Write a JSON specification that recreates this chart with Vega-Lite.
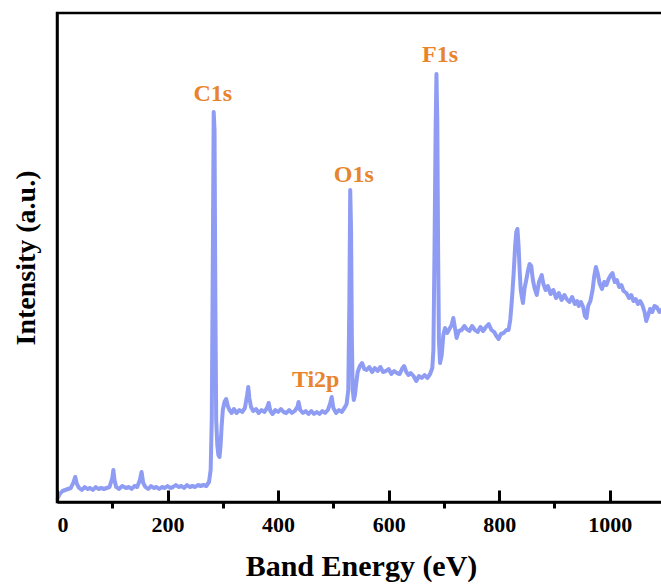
{
  "$schema": "https://vega.github.io/schema/vega-lite/v6.json",
  "width": 608,
  "height": 489,
  "autosize": {"type": "none"},
  "padding": {"left": 57, "top": 13, "right": 0, "bottom": 85},
  "background": "white",
  "config": {
    "view": {"stroke": "black", "strokeWidth": 2.5},
    "axis": {
      "grid": false,
      "labelFont": "Liberation Serif",
      "titleFont": "Liberation Serif",
      "labelFontWeight": "bold",
      "titleFontWeight": "bold",
      "labelColor": "black",
      "titleColor": "black",
      "domainColor": "black"
    }
  },
  "datasets": {
    "spectrum": [
      {"energy": 0, "intensity": 2}, {"energy": 5, "intensity": 8}, {"energy": 10, "intensity": 11}, {"energy": 15, "intensity": 12},
      {"energy": 20, "intensity": 13}, {"energy": 25, "intensity": 14}, {"energy": 30, "intensity": 20}, {"energy": 33, "intensity": 25},
      {"energy": 36, "intensity": 18}, {"energy": 40, "intensity": 14}, {"energy": 45, "intensity": 12}, {"energy": 50, "intensity": 15},
      {"energy": 55, "intensity": 13}, {"energy": 60, "intensity": 14}, {"energy": 65, "intensity": 12}, {"energy": 70, "intensity": 15},
      {"energy": 75, "intensity": 13}, {"energy": 80, "intensity": 14}, {"energy": 85, "intensity": 13}, {"energy": 90, "intensity": 14},
      {"energy": 95, "intensity": 15}, {"energy": 100, "intensity": 24}, {"energy": 102, "intensity": 32}, {"energy": 104, "intensity": 22},
      {"energy": 107, "intensity": 15}, {"energy": 112, "intensity": 13}, {"energy": 118, "intensity": 16}, {"energy": 125, "intensity": 14},
      {"energy": 130, "intensity": 15}, {"energy": 135, "intensity": 13}, {"energy": 140, "intensity": 16}, {"energy": 145, "intensity": 15},
      {"energy": 150, "intensity": 22}, {"energy": 153, "intensity": 30}, {"energy": 156, "intensity": 19}, {"energy": 160, "intensity": 15},
      {"energy": 165, "intensity": 13}, {"energy": 170, "intensity": 16}, {"energy": 175, "intensity": 14}, {"energy": 180, "intensity": 15},
      {"energy": 185, "intensity": 13}, {"energy": 190, "intensity": 15}, {"energy": 195, "intensity": 14}, {"energy": 200, "intensity": 16},
      {"energy": 205, "intensity": 14}, {"energy": 210, "intensity": 15}, {"energy": 215, "intensity": 17}, {"energy": 220, "intensity": 15},
      {"energy": 225, "intensity": 16}, {"energy": 230, "intensity": 14}, {"energy": 235, "intensity": 17}, {"energy": 240, "intensity": 15},
      {"energy": 245, "intensity": 16}, {"energy": 250, "intensity": 15}, {"energy": 255, "intensity": 17}, {"energy": 260, "intensity": 16},
      {"energy": 265, "intensity": 17}, {"energy": 270, "intensity": 16}, {"energy": 275, "intensity": 20}, {"energy": 278, "intensity": 32},
      {"energy": 280, "intensity": 82}, {"energy": 282, "intensity": 252}, {"energy": 283.5, "intensity": 390}, {"energy": 285, "intensity": 372},
      {"energy": 286.5, "intensity": 202}, {"energy": 288, "intensity": 82}, {"energy": 290, "intensity": 57}, {"energy": 292, "intensity": 47},
      {"energy": 294, "intensity": 45}, {"energy": 296, "intensity": 57}, {"energy": 298, "intensity": 77}, {"energy": 300, "intensity": 92},
      {"energy": 303, "intensity": 100}, {"energy": 306, "intensity": 103}, {"energy": 309, "intensity": 96}, {"energy": 312, "intensity": 92},
      {"energy": 316, "intensity": 89}, {"energy": 320, "intensity": 93}, {"energy": 325, "intensity": 89}, {"energy": 330, "intensity": 92},
      {"energy": 335, "intensity": 90}, {"energy": 340, "intensity": 94}, {"energy": 344, "intensity": 107}, {"energy": 346, "intensity": 115},
      {"energy": 348, "intensity": 104}, {"energy": 351, "intensity": 95}, {"energy": 355, "intensity": 91}, {"energy": 360, "intensity": 93},
      {"energy": 365, "intensity": 89}, {"energy": 370, "intensity": 92}, {"energy": 375, "intensity": 90}, {"energy": 380, "intensity": 94},
      {"energy": 383, "intensity": 99}, {"energy": 386, "intensity": 91}, {"energy": 390, "intensity": 88}, {"energy": 395, "intensity": 92},
      {"energy": 400, "intensity": 90}, {"energy": 405, "intensity": 93}, {"energy": 410, "intensity": 90}, {"energy": 415, "intensity": 89},
      {"energy": 420, "intensity": 92}, {"energy": 425, "intensity": 89}, {"energy": 430, "intensity": 91}, {"energy": 435, "intensity": 95},
      {"energy": 437, "intensity": 100}, {"energy": 440, "intensity": 92}, {"energy": 445, "intensity": 89}, {"energy": 450, "intensity": 91},
      {"energy": 455, "intensity": 88}, {"energy": 460, "intensity": 91}, {"energy": 465, "intensity": 88}, {"energy": 470, "intensity": 90},
      {"energy": 475, "intensity": 88}, {"energy": 480, "intensity": 91}, {"energy": 485, "intensity": 89}, {"energy": 490, "intensity": 92},
      {"energy": 494, "intensity": 98}, {"energy": 497, "intensity": 105}, {"energy": 500, "intensity": 94}, {"energy": 505, "intensity": 89},
      {"energy": 510, "intensity": 92}, {"energy": 515, "intensity": 90}, {"energy": 520, "intensity": 94}, {"energy": 524, "intensity": 98},
      {"energy": 527, "intensity": 112}, {"energy": 529, "intensity": 202}, {"energy": 530.5, "intensity": 312}, {"energy": 532, "intensity": 272},
      {"energy": 533.5, "intensity": 162}, {"energy": 535, "intensity": 112}, {"energy": 537, "intensity": 102}, {"energy": 539, "intensity": 107},
      {"energy": 541, "intensity": 117}, {"energy": 544, "intensity": 130}, {"energy": 548, "intensity": 136}, {"energy": 552, "intensity": 139},
      {"energy": 556, "intensity": 133}, {"energy": 560, "intensity": 132}, {"energy": 565, "intensity": 135}, {"energy": 570, "intensity": 130},
      {"energy": 575, "intensity": 134}, {"energy": 580, "intensity": 131}, {"energy": 585, "intensity": 135}, {"energy": 590, "intensity": 130},
      {"energy": 595, "intensity": 131}, {"energy": 600, "intensity": 133}, {"energy": 605, "intensity": 128}, {"energy": 610, "intensity": 131},
      {"energy": 615, "intensity": 129}, {"energy": 620, "intensity": 128}, {"energy": 625, "intensity": 134}, {"energy": 628, "intensity": 136},
      {"energy": 632, "intensity": 130}, {"energy": 636, "intensity": 127}, {"energy": 640, "intensity": 129}, {"energy": 645, "intensity": 126},
      {"energy": 650, "intensity": 121}, {"energy": 655, "intensity": 126}, {"energy": 660, "intensity": 124}, {"energy": 665, "intensity": 127},
      {"energy": 670, "intensity": 124}, {"energy": 675, "intensity": 128}, {"energy": 679, "intensity": 134}, {"energy": 681, "intensity": 152},
      {"energy": 683, "intensity": 252}, {"energy": 685, "intensity": 372}, {"energy": 686.5, "intensity": 428}, {"energy": 688, "intensity": 382},
      {"energy": 689.5, "intensity": 252}, {"energy": 691, "intensity": 162}, {"energy": 693, "intensity": 139}, {"energy": 696, "intensity": 147},
      {"energy": 699, "intensity": 167}, {"energy": 702, "intensity": 174}, {"energy": 706, "intensity": 169}, {"energy": 710, "intensity": 173},
      {"energy": 714, "intensity": 177}, {"energy": 717, "intensity": 184}, {"energy": 720, "intensity": 174}, {"energy": 723, "intensity": 164},
      {"energy": 727, "intensity": 171}, {"energy": 732, "intensity": 172}, {"energy": 737, "intensity": 176}, {"energy": 741, "intensity": 173},
      {"energy": 746, "intensity": 171}, {"energy": 751, "intensity": 176}, {"energy": 756, "intensity": 172}, {"energy": 761, "intensity": 170},
      {"energy": 766, "intensity": 175}, {"energy": 771, "intensity": 171}, {"energy": 776, "intensity": 175}, {"energy": 781, "intensity": 178},
      {"energy": 786, "intensity": 172}, {"energy": 791, "intensity": 170}, {"energy": 795, "intensity": 166}, {"energy": 799, "intensity": 163},
      {"energy": 803, "intensity": 168}, {"energy": 808, "intensity": 169}, {"energy": 813, "intensity": 172}, {"energy": 817, "intensity": 172},
      {"energy": 820, "intensity": 182}, {"energy": 823, "intensity": 202}, {"energy": 826, "intensity": 227}, {"energy": 829, "intensity": 257},
      {"energy": 831, "intensity": 270}, {"energy": 833, "intensity": 273}, {"energy": 835, "intensity": 257}, {"energy": 837, "intensity": 232},
      {"energy": 839, "intensity": 212}, {"energy": 841, "intensity": 205}, {"energy": 843, "intensity": 199}, {"energy": 846, "intensity": 214},
      {"energy": 849, "intensity": 222}, {"energy": 852, "intensity": 231}, {"energy": 855, "intensity": 238}, {"energy": 858, "intensity": 236},
      {"energy": 861, "intensity": 222}, {"energy": 864, "intensity": 214}, {"energy": 868, "intensity": 207}, {"energy": 872, "intensity": 220},
      {"energy": 877, "intensity": 227}, {"energy": 880, "intensity": 218}, {"energy": 884, "intensity": 212}, {"energy": 888, "intensity": 216},
      {"energy": 893, "intensity": 208}, {"energy": 898, "intensity": 212}, {"energy": 903, "intensity": 204}, {"energy": 908, "intensity": 209},
      {"energy": 913, "intensity": 202}, {"energy": 918, "intensity": 207}, {"energy": 922, "intensity": 203}, {"energy": 927, "intensity": 200},
      {"energy": 932, "intensity": 205}, {"energy": 937, "intensity": 198}, {"energy": 941, "intensity": 201}, {"energy": 944, "intensity": 196},
      {"energy": 948, "intensity": 200}, {"energy": 952, "intensity": 195}, {"energy": 955, "intensity": 186}, {"energy": 958, "intensity": 184},
      {"energy": 961, "intensity": 196}, {"energy": 965, "intensity": 201}, {"energy": 969, "intensity": 212}, {"energy": 972, "intensity": 226},
      {"energy": 975, "intensity": 235}, {"energy": 978, "intensity": 229}, {"energy": 982, "intensity": 218}, {"energy": 986, "intensity": 213},
      {"energy": 990, "intensity": 220}, {"energy": 994, "intensity": 217}, {"energy": 998, "intensity": 223}, {"energy": 1002, "intensity": 227},
      {"energy": 1005, "intensity": 229}, {"energy": 1009, "intensity": 220}, {"energy": 1013, "intensity": 222}, {"energy": 1017, "intensity": 215},
      {"energy": 1021, "intensity": 217}, {"energy": 1025, "intensity": 211}, {"energy": 1030, "intensity": 209}, {"energy": 1035, "intensity": 204},
      {"energy": 1039, "intensity": 207}, {"energy": 1043, "intensity": 201}, {"energy": 1047, "intensity": 203}, {"energy": 1051, "intensity": 198},
      {"energy": 1055, "intensity": 201}, {"energy": 1059, "intensity": 197}, {"energy": 1063, "intensity": 190}, {"energy": 1066, "intensity": 181},
      {"energy": 1069, "intensity": 186}, {"energy": 1073, "intensity": 193}, {"energy": 1077, "intensity": 190}, {"energy": 1081, "intensity": 196},
      {"energy": 1085, "intensity": 195}, {"energy": 1090, "intensity": 190}, {"energy": 1095, "intensity": 193}, {"energy": 1100, "intensity": 190}
    ],
    "peaks": [
      {"label": "C1s", "energy": 282, "intensity": 401},
      {"label": "O1s", "energy": 537, "intensity": 320},
      {"label": "F1s", "energy": 693, "intensity": 440},
      {"label": "Ti2p", "energy": 468, "intensity": 115}
    ]
  },
  "layer": [
    {
      "data": {"name": "spectrum"},
      "mark": {"type": "line", "color": "#8E9CF3", "strokeWidth": 4, "strokeJoin": "round"},
      "encoding": {
        "x": {
          "field": "energy",
          "type": "quantitative",
          "scale": {"domain": [0, 1100], "nice": false, "zero": false},
          "axis": {
            "orient": "bottom",
            "values": [0, 200, 400, 600, 800, 1000],
            "format": "d",
            "offset": -12,
            "ticks": true,
            "tickSize": 12,
            "tickWidth": 3,
            "tickColor": "#000000",
            "domain": false,
            "labelFontSize": 22,
            "labelPadding": 12,
            "title": "Band Energy (eV)",
            "titleFontSize": 30,
            "titlePadding": 16,
            "zindex": 1
          }
        },
        "y": {
          "field": "intensity",
          "type": "quantitative",
          "scale": {"domain": [0, 489], "nice": false},
          "axis": {
            "title": "Intensity (a.u.)",
            "labels": false,
            "ticks": false,
            "domainWidth": 2.5,
            "titleFontSize": 28,
            "titlePadding": 17
          }
        }
      }
    },
    {
      "data": {"name": "peaks"},
      "mark": {"type": "text", "color": "#E8842C", "font": "Liberation Serif", "fontWeight": "bold", "fontSize": 24, "baseline": "alphabetic", "align": "center"},
      "encoding": {
        "x": {
          "field": "energy",
          "type": "quantitative",
          "axis": {
            "orient": "bottom",
            "values": [100, 300, 500, 700, 900, 1100],
            "labels": false,
            "domain": true,
            "domainWidth": 2.5,
            "ticks": true,
            "tickSize": 6,
            "tickWidth": 3,
            "tickColor": "#000000",
            "title": null
          }
        },
        "y": {"field": "intensity", "type": "quantitative"},
        "text": {"field": "label"}
      }
    }
  ],
  "resolve": {"axis": {"x": "independent"}}
}
